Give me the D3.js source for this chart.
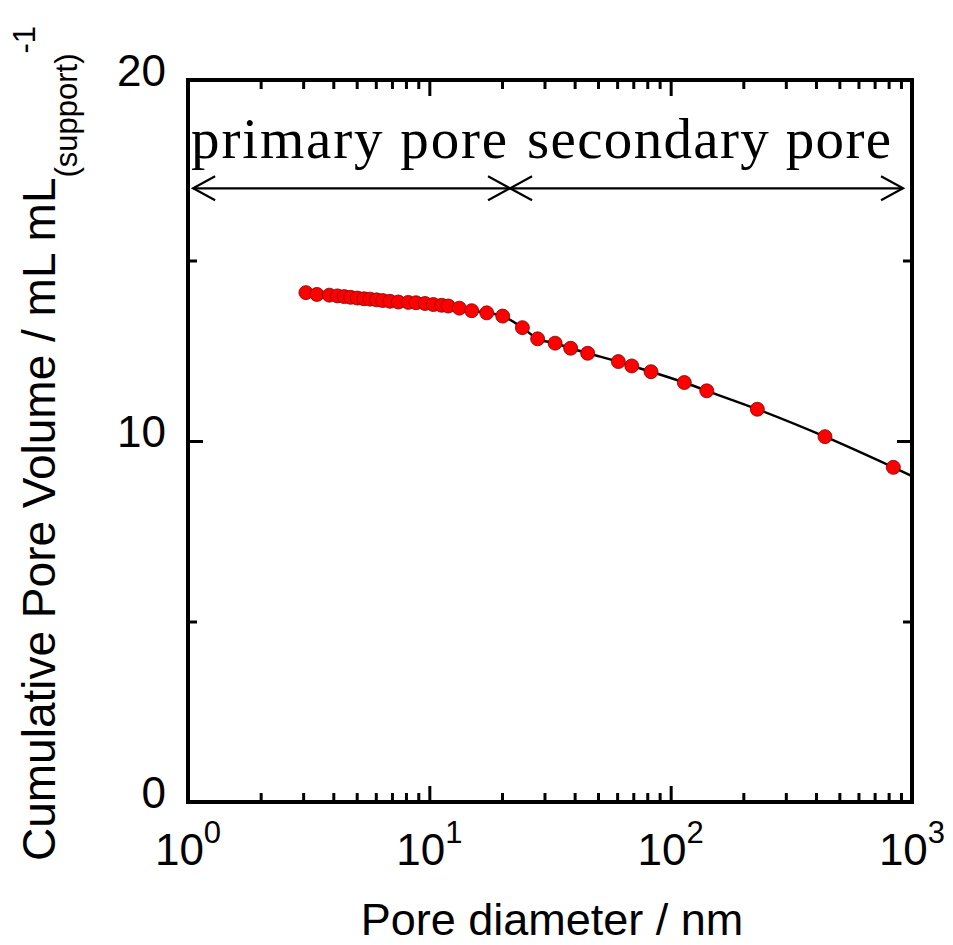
<!DOCTYPE html>
<html>
<head>
<meta charset="utf-8">
<script src="https://cdn.jsdelivr.net/npm/d3@7"></script>
<style>
  html, body { margin: 0; padding: 0; background: #fff; }
  svg { display: block; }
</style>
</head>
<body>
<div id="chart"></div>
<script>
// ---- data ----
const diameters = [3.08, 3.42, 3.85, 4.16, 4.44, 4.72, 5.03, 5.36, 5.68, 6.05, 6.41, 6.87, 7.44, 8.18, 8.81, 9.60,
  10.39, 11.25, 11.98, 13.31, 14.98, 17.29, 20.14, 24.3, 28.1, 33.2, 38.5, 45.3, 60.7, 69.0, 82.9, 113.9, 141.1,
  228.6, 436, 837];
const volumes = [14.11, 14.06, 14.04, 14.02, 14.00, 13.98, 13.96, 13.94, 13.93, 13.91, 13.89, 13.87, 13.85, 13.84,
  13.83, 13.81, 13.78, 13.76, 13.74, 13.68, 13.61, 13.55, 13.46, 13.14, 12.83, 12.71, 12.57, 12.43, 12.20, 12.08,
  11.92, 11.62, 11.39, 10.88, 10.12, 9.27];
// fitted curve continues to the right edge of the axis
const fitEndDiameter = [1000];
const fitEndVolume = [9.03];

const xMajorTicks = [1, 10, 100, 1000];
const xMajorExponents = ["0", "1", "2", "3"];
const yMajorTicks = [0, 10, 20];
const yMinorTicks = [5, 15];

const regionLabels = ["primary pore", "secondary pore"];
const regionStart = [1.05, 21.6];
const regionEnd = [21.6, 918];
const regionLabelX = [1.03, 25.4];
const regionArrowY = 17.0;
const regionLabelY = 17.85;

const xTitle = "Pore diameter / nm";
const yTitleMain = "Cumulative Pore Volume / mL mL";
const yTitleSub = "(support)";
const yTitleSup = "-1";

// ---- layout ----
const W = 953, H = 945;
const mLeft = 188, mTop = 80, pw = 724, ph = 722;
const sans = "'Liberation Sans', Arial, sans-serif";
const serif = "'Liberation Serif', 'Times New Roman', serif";
const regionLabelWidths = [316, 364];

const svg = d3.select("#chart").append("svg").attr("width", W).attr("height", H);
const g = svg.append("g").attr("transform", `translate(${mLeft},${mTop})`);

const x = d3.scaleLog().domain([1, 1000]).range([0, pw]);
const y = d3.scaleLinear().domain([0, 20]).range([ph, 0]);

// minor x ticks 2..9 each decade
const xMinor = [];
[1, 10, 100].forEach(d => { for (let k = 2; k <= 9; k++) xMinor.push(d * k); });

function styleAxis(sel) {
  sel.select(".domain").remove();
  sel.selectAll(".tick line").attr("stroke", "#000").attr("stroke-width", 3);
}

// bottom axis
const xb = g.append("g").attr("transform", `translate(0,${ph})`)
  .call(d3.axisBottom(x).tickValues(xMajorTicks).tickSizeInner(-16).tickSizeOuter(0).tickFormat(""));
styleAxis(xb);
const xbm = g.append("g").attr("transform", `translate(0,${ph})`)
  .call(d3.axisBottom(x).tickValues(xMinor).tickSizeInner(-9).tickSizeOuter(0).tickFormat(""));
styleAxis(xbm);
// top axis
const xt = g.append("g")
  .call(d3.axisTop(x).tickValues(xMajorTicks).tickSizeInner(-16).tickSizeOuter(0).tickFormat(""));
styleAxis(xt);
const xtm = g.append("g")
  .call(d3.axisTop(x).tickValues(xMinor).tickSizeInner(-9).tickSizeOuter(0).tickFormat(""));
styleAxis(xtm);

// x tick labels with superscripts
const xl = g.append("g").attr("transform", `translate(0,${ph})`);
xMajorTicks.forEach((v, i) => {
  const t = xl.append("text")
    .attr("x", x(v)).attr("y", 63)
    .attr("text-anchor", "middle")
    .attr("font-family", sans).attr("font-size", 44).attr("fill", "#000");
  t.append("tspan").text("10");
  t.append("tspan").attr("font-size", 31).attr("dy", -22).text(xMajorExponents[i]);
});

// left axis
const yl = g.append("g")
  .call(d3.axisLeft(y).tickValues(yMajorTicks).tickSizeInner(-15).tickSizeOuter(0).tickPadding(22).tickFormat(d3.format("d")));
styleAxis(yl);
yl.selectAll(".tick text").attr("font-family", sans).attr("font-size", 44).attr("fill", "#000")
  .attr("y", -9);
const ylm = g.append("g")
  .call(d3.axisLeft(y).tickValues(yMinorTicks).tickSizeInner(-9).tickSizeOuter(0).tickFormat(""));
styleAxis(ylm);
// right axis
const yr = g.append("g").attr("transform", `translate(${pw},0)`)
  .call(d3.axisRight(y).tickValues(yMajorTicks).tickSizeInner(-15).tickSizeOuter(0).tickFormat(""));
styleAxis(yr);
const yrm = g.append("g").attr("transform", `translate(${pw},0)`)
  .call(d3.axisRight(y).tickValues(yMinorTicks).tickSizeInner(-9).tickSizeOuter(0).tickFormat(""));
styleAxis(yrm);

// fitted line
const linePts = diameters.map((d, i) => [d, volumes[i]])
  .concat(fitEndDiameter.map((d, i) => [d, fitEndVolume[i]]));
g.append("path")
  .datum(linePts)
  .attr("fill", "none").attr("stroke", "#000").attr("stroke-width", 2.5)
  .attr("d", d3.line().x(d => x(d[0])).y(d => y(d[1])).curve(d3.curveMonotoneX));

// points
g.append("g").selectAll("circle")
  .data(diameters.map((d, i) => [d, volumes[i]]))
  .join("circle")
  .attr("cx", d => x(d[0])).attr("cy", d => y(d[1]))
  .attr("r", 7)
  .attr("fill", "#ff0000").attr("stroke", "#7a0000").attr("stroke-width", 0.8);

// region arrows
function arrowHead(gg, xt, yt, dir) {
  gg.append("path")
    .attr("d", `M${xt - dir * 22},${yt - 12} L${xt},${yt} L${xt - dir * 22},${yt + 12}`)
    .attr("fill", "none").attr("stroke", "#000").attr("stroke-width", 2.2);
}
const ann = g.append("g");
regionLabels.forEach((lab, i) => {
  const x0 = x(regionStart[i]), x1 = x(regionEnd[i]), yy = y(regionArrowY);
  ann.append("line").attr("x1", x0).attr("x2", x1).attr("y1", yy).attr("y2", yy)
    .attr("stroke", "#000").attr("stroke-width", 2.2);
  arrowHead(ann, x0, yy, -1);
  arrowHead(ann, x1, yy, 1);
  ann.append("text")
    .attr("x", x(regionLabelX[i])).attr("y", y(regionLabelY))
    .attr("font-family", serif).attr("font-size", 57)
    .attr("textLength", regionLabelWidths[i]).attr("lengthAdjust", "spacing")
    .attr("fill", "#000")
    .text(lab);
});

// frame
g.append("rect").attr("x", 0).attr("y", 0).attr("width", pw).attr("height", ph)
  .attr("fill", "none").attr("stroke", "#000").attr("stroke-width", 4);

// x title
svg.append("text")
  .attr("x", mLeft + pw / 2 + 2).attr("y", 935)
  .attr("text-anchor", "middle")
  .attr("font-family", sans).attr("font-size", 45).attr("fill", "#000")
  .text(xTitle);

// y title with subscript & superscript
const yt2 = svg.append("text")
  .attr("transform", "translate(55,861) rotate(-90)")
  .attr("text-anchor", "start")
  .attr("font-family", sans).attr("font-size", 46).attr("fill", "#000");
yt2.append("tspan").text(yTitleMain);
yt2.append("tspan").attr("font-size", 31).attr("dy", 22).text(yTitleSub);
yt2.append("tspan").attr("font-size", 31).attr("dy", -42).text(yTitleSup);
</script>
</body>
</html>
